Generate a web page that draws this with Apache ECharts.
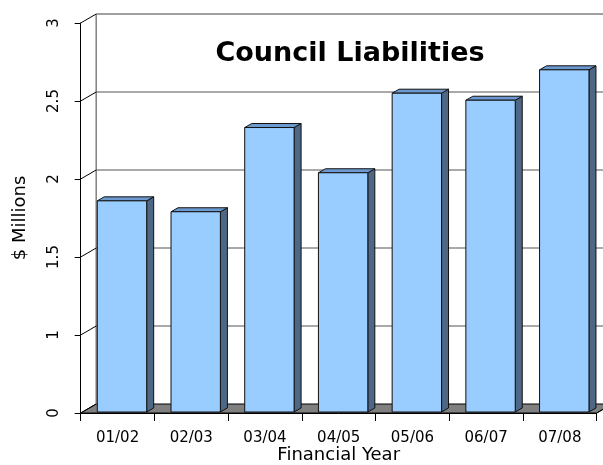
<!DOCTYPE html>
<html><head><meta charset="utf-8">
<script src="https://cdn.jsdelivr.net/npm/echarts@6/dist/echarts.min.js"></script>
<style>html,body{margin:0;padding:0;background:#fff}#c{width:603px;height:465px}</style>
</head><body><div id="c"></div>
<script>
var categories = ["01/02","02/03","03/04","04/05","05/06","06/07","07/08"];
var liabilities = [1.86, 1.79, 2.33, 2.04, 2.55, 2.505, 2.70];
var tickValues = [0.5, 1, 1.5, 2, 2.5, 3];
var tickLabels = ["0", "1", "1.5", "2", "2.5", "3"];
var titleText = "Council Liabilities";
var yTitle = "$ Millions";
var xTitle = "Financial Year";

var FONT = "DejaVu Sans";
var DX = 15.5, DY = -9;   // wall depth offset
var BX = 7, BY = -4;      // bar depth offset

var chart = echarts.init(document.getElementById('c'), null, {renderer: 'canvas'});

function wallRender(params, api) {
  var n = categories.length;
  var kids = [];
  var leftB = api.coord([0, 0.5]); var bw = api.size([1, 0])[0];
  var x0 = leftB[0] - bw / 2, x1 = x0 + bw * n;
  var yb = leftB[1];
  var yt = api.coord([0, 3])[1];
  kids.push({type: 'polygon', shape: {points: [[x0, yb], [x1, yb], [x1 + DX, yb + DY], [x0 + DX, yb + DY]]},
    style: {fill: '#808080', stroke: '#000', lineWidth: 1}});
  kids.push({type: 'line', shape: {x1: x0 + DX, y1: yt + DY, x2: x0 + DX, y2: yb + DY}, style: {stroke: '#808080', lineWidth: 1.5}});
  for (var i = 0; i < tickValues.length; i++) {
    var y = api.coord([0, tickValues[i]])[1];
    if (i > 0) {
      kids.push({type: 'line', shape: {x1: x0 + DX, y1: y + DY, x2: x1 + DX + 10, y2: y + DY},
        style: {stroke: i === tickValues.length - 1 ? '#808080' : '#555', lineWidth: i === tickValues.length - 1 ? 1.5 : 1}});
    }
    kids.push({type: 'line', shape: {x1: x0, y1: y, x2: x0 + DX, y2: y + DY}, style: {stroke: '#000', lineWidth: 1}});
  }
  kids.push({type: 'line', shape: {x1: x1, y1: yb, x2: x1 + DX, y2: yb + DY}, style: {stroke: '#000', lineWidth: 1}});
  return {type: 'group', children: kids};
}

function barRender(params, api) {
  var idx = api.value(0), val = api.value(1);
  var bot = api.coord([idx, 0.5]);
  var top = api.coord([idx, val]);
  var bw = api.size([1, 0])[0];
  var xl = bot[0] - 0.275 * bw;
  var xr = xl + 0.67 * bw;
  var yb = bot[1] - 1, yt = top[1];
  var ln = {stroke: '#111', lineWidth: 1};
  return {type: 'group', children: [
    {type: 'polygon', shape: {points: [[xr, yt], [xr + BX, yt + BY], [xr + BX, yb + BY], [xr, yb]]},
      style: Object.assign({fill: '#4E6785'}, ln)},
    {type: 'polygon', shape: {points: [[xl, yt], [xl + BX, yt + BY], [xr + BX, yt + BY], [xr, yt]]},
      style: Object.assign({fill: '#6C9AD0'}, ln)},
    {type: 'rect', shape: {x: xl, y: yt, width: xr - xl, height: yb - yt},
      style: Object.assign({fill: '#99CCFF'}, ln)}
  ]};
}

chart.setOption({
  animation: false,
  title: {text: titleText, left: 345, top: 35, textAlign: 'center',
    textStyle: {fontFamily: FONT, fontWeight: 'bold', fontSize: 27, color: '#000'}},
  grid: {left: 80.7, right: 6.3, top: 23, bottom: 52, containLabel: false, outerBoundsMode: 'none'},
  xAxis: {type: 'category', data: categories, z: 10,
    name: xTitle, nameLocation: 'middle', nameGap: 33, nameMoveOverlap: false,
    nameTextStyle: {fontFamily: FONT, fontSize: 18, color: '#000'},
    axisLine: {show: true, lineStyle: {color: '#000', width: 1}},
    axisTick: {show: true, length: 8, lineStyle: {color: '#000'}},
    axisLabel: {fontFamily: FONT, fontSize: 15, color: '#000', margin: 18}},
  yAxis: {type: 'value', min: 0.5, max: 3, interval: 0.5, z: 10,
    name: yTitle, nameLocation: 'middle', nameGap: 51, nameRotate: 90, nameMoveOverlap: false,
    nameTextStyle: {fontFamily: FONT, fontSize: 18, color: '#000'},
    splitLine: {show: false},
    axisLine: {show: true, lineStyle: {color: '#000', width: 1}},
    axisTick: {show: true, length: 6, lineStyle: {color: '#000'}},
    axisLabel: {fontFamily: FONT, fontSize: 15, color: '#000', rotate: 90, margin: 27,
      verticalAlign: 'middle', align: 'center',
      formatter: function (v) { var i = tickValues.indexOf(v); return i >= 0 ? tickLabels[i] : ''; }}},
  series: [
    {type: 'custom', z: 1, renderItem: wallRender, data: [[0, 0.5]], silent: true, clip: false},
    {type: 'custom', z: 3, renderItem: barRender, silent: true, clip: false,
      data: liabilities.map(function (v, i) { return [i, v]; })}
  ]
});
</script></body></html>
